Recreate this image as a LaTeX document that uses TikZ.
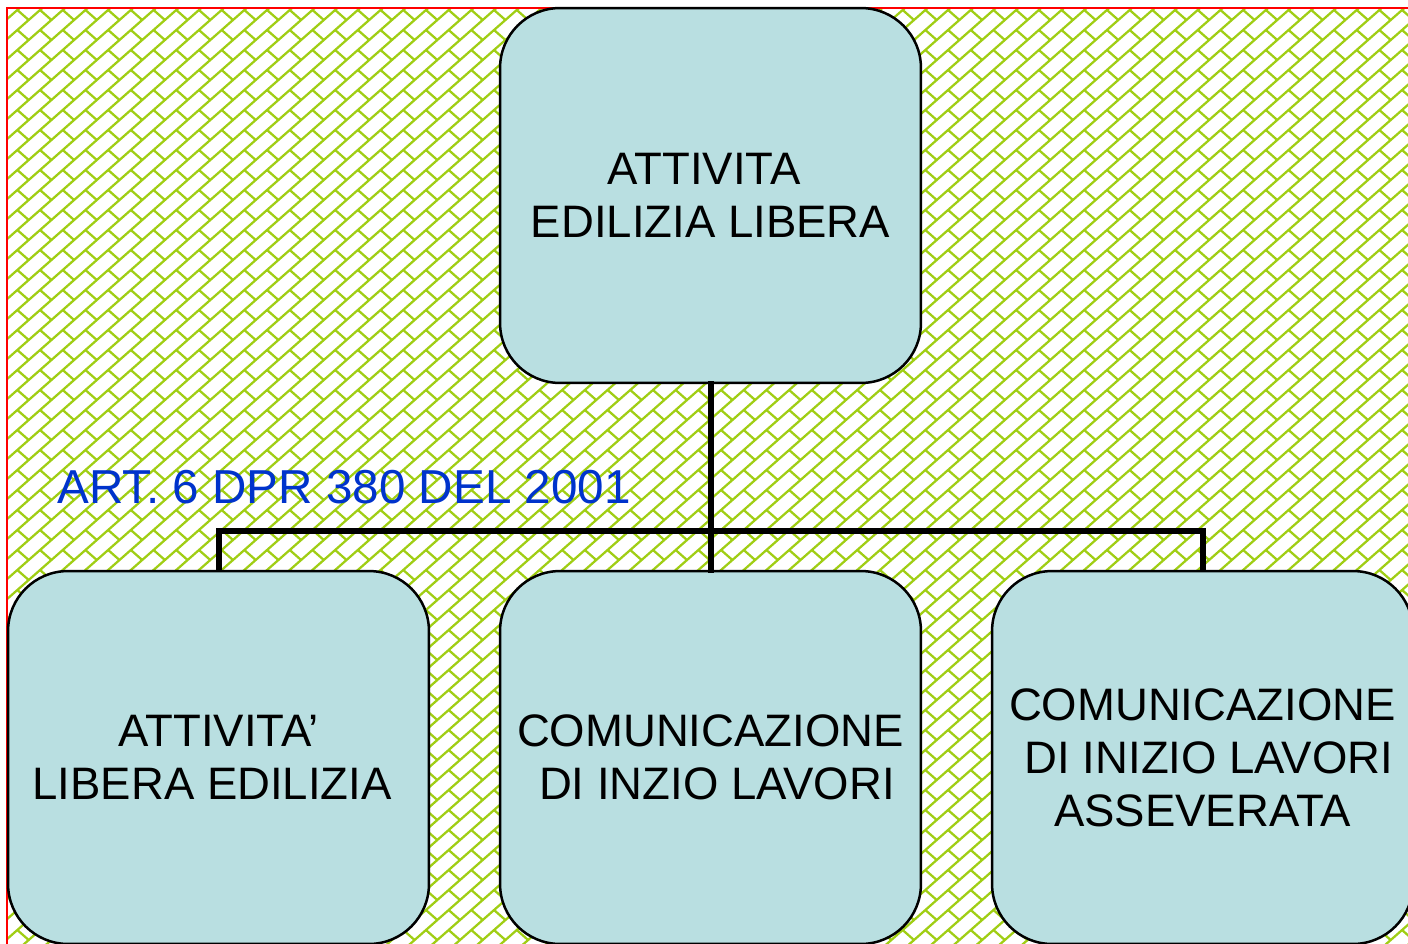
\documentclass[tikz,border=0pt]{standalone}
\usepackage{fontspec}
\setmainfont{Liberation Sans}
\definecolor{pat}{RGB}{160,206,20}
\definecolor{boxfill}{RGB}{185,223,225}
\definecolor{artblue}{RGB}{0,51,204}
\begin{document}
\begin{tikzpicture}[x=0.02cm,y=-0.02cm,
  box/.style={draw=black, line width=0.05cm, fill=boxfill, rounded corners=1.2cm,
    minimum width=8.42cm, align=center, inner sep=0pt,
    font=\fontsize{25.9}{30.2}\selectfont},
  conn/.style={line width=0.12cm, line cap=rect},
  patline/.style={draw=pat, line width=0.045cm}]
\useasboundingbox (0,0) rectangle (1408,943);
\fill[white] (0,0) rectangle (1408,943);
% background brick pattern
\begin{scope}
  \clip (7,8) rectangle (1408,943);
  \draw[patline] \foreach \k in {0,...,112} { ({\k*22.7+6},0) -- (6,{\k*20}) };
  \draw[patline] \foreach \i in {-1,...,62} { \foreach \j in {-1,...,47} {
      ({(\i+0.5)*22.7+6},{(\j+0.5)*20}) -- ({(\i+1)*22.7+6},{(\j+1)*20}) } };
\end{scope}
\draw[red, line width=0.04cm] (7,960) -- (7,8) -- (1420,8);
% boxes
\node[box, minimum height=7.5cm] (top) at (710.5,195.5) {ATTIVITA\kern0.28em\\EDILIZIA LIBERA};
\node[box, minimum height=7.46cm] (bl) at (218.5,757.5) {ATTIVITA’\\LIBERA EDILIZIA\kern0.28em};
\node[box, minimum height=7.46cm] (bm) at (710.5,757.5) {COMUNICAZIONE\\\kern0.28em DI INZIO LAVORI};
\node[box, minimum height=7.46cm] (br) at (1202.5,757.5) {COMUNICAZIONE\\\kern0.28em DI INIZIO LAVORI\\ASSEVERATA};
% connectors
\coordinate (bus) at (710.5,531);
\draw[conn] (top.south) -- (bm.north);
\draw[conn, line cap=butt] (bl.north) -- (bl.north |- bus) -- (br.north |- bus) -- (br.north);
% label
\node[text=artblue, inner sep=0pt, font=\fontsize{27.1}{30}\selectfont] (art) at (344,487) {ART. 6 DPR 380 DEL 2001};
\end{tikzpicture}
\end{document}
